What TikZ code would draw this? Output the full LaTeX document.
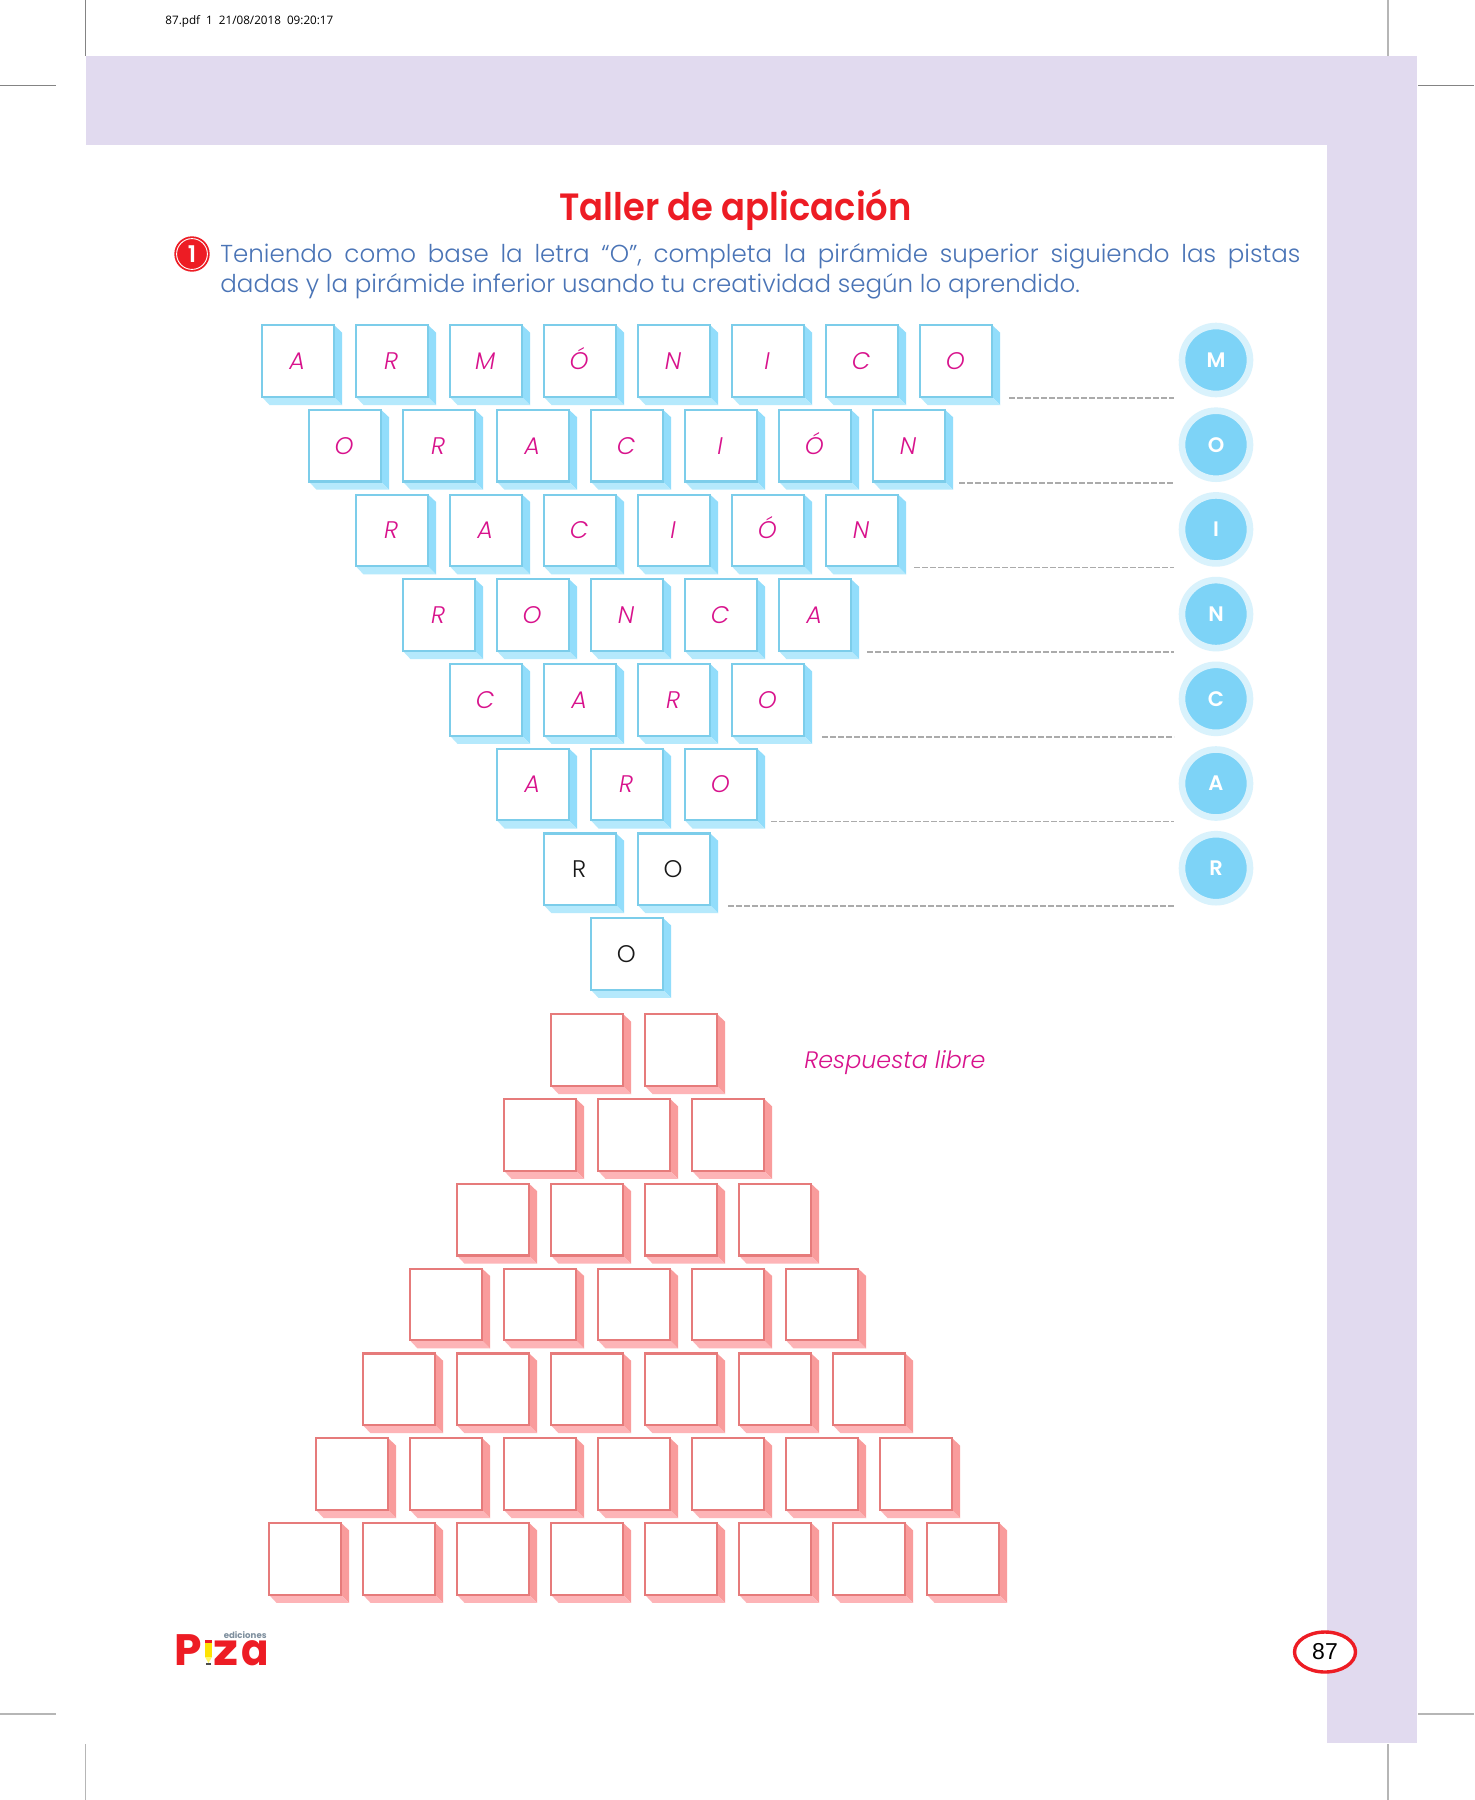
\documentclass[tikz,border=0pt]{standalone}
\usepackage{fontspec}
\usetikzlibrary{shapes.geometric}
\setmainfont{Poppins Light}
\newfontfamily\titlefont{Poppins SemiBold}
\newfontfamily\logofont{Poppins}
\newfontfamily\markfont{Open Sans}
\newfontfamily\numfont{Liberation Sans}
\definecolor{lilac}{HTML}{E1DAEF}
\definecolor{croplight}{HTML}{B6B6B6}
\definecolor{cropdark}{HTML}{848484}
\definecolor{dashgray}{HTML}{ABABAB}
\definecolor{tealedge}{HTML}{7CCDEA}
\definecolor{tealside}{HTML}{92DDFB}
\definecolor{tealfoot}{HTML}{B5E9FC}
\definecolor{rededge}{HTML}{E67B7B}
\definecolor{redside}{HTML}{F99C9C}
\definecolor{redfoot}{HTML}{FDB4B7}
\definecolor{ink}{HTML}{D8128C}
\definecolor{bodyblue}{HTML}{4A74B6}
\definecolor{titlered}{HTML}{ED1C24}
\definecolor{ringlight}{HTML}{D9F2FC}
\definecolor{ringfill}{HTML}{7DD3F7}
\definecolor{logogray}{HTML}{7D8E9D}
\tikzset{
  x=0.5pt,y=-0.5pt,
  cropthin/.style={cropdark,line width=0.5pt},
  cropwide/.style={croplight,line width=0.8pt},
  guide/.style={dashgray,line width=0.85pt,dash pattern=on 2.8pt off 1.2pt},
  cellbase/.style={draw,fill=white,minimum size=35.8pt,inner sep=0pt,line width=1.1pt,text height=8.4pt,text depth=0pt,font=\fontsize{12}{12}\selectfont},
  cellteal/.style={cellbase,draw=tealedge},
  cellred/.style={cellbase,draw=rededge},
  lettermag/.style={text=ink,font=\fontsize{12}{12}\selectfont\itshape},
  letterblk/.style={text=black!90},
  disc/.style={circle,fill=ringfill,draw=ringlight,line width=3.3pt,minimum size=34pt,inner sep=0pt,text=white,font=\fontsize{10.5}{10.5}\selectfont\titlefont},
}
\begin{document}
\begin{tikzpicture}
\useasboundingbox (0,0) rectangle (1474,1800);
\fill[white] (0,0) rectangle (1474,1800);
% lilac frame
\fill[lilac] (86,56) rectangle (1417,145);
\fill[lilac] (1327,56) rectangle (1417,1743);
% crop marks
\coordinate (c1a) at (85.5,0); \coordinate (c1b) at (85.5,56);
\coordinate (c2a) at (0,85); \coordinate (c2b) at (56,85);
\coordinate (c3a) at (1388,0); \coordinate (c3b) at (1388,56);
\coordinate (c4a) at (1418,85); \coordinate (c4b) at (1474,85);
\coordinate (c5a) at (0,1714); \coordinate (c5b) at (56,1714);
\coordinate (c6a) at (85.5,1744); \coordinate (c6b) at (85.5,1800);
\coordinate (c7a) at (1418,1714); \coordinate (c7b) at (1474,1714);
\coordinate (c8a) at (1388,1744); \coordinate (c8b) at (1388,1800);
\foreach \k in {1,2,4} \draw[cropthin] (c\k a) -- (c\k b);
\foreach \k in {3,5,6,7,8} \draw[cropwide] (c\k a) -- (c\k b);
% header
\node[anchor=base west,inner sep=0pt,font=\fontsize{5.84}{6}\selectfont\markfont] (stamp) at (165,24) {87.pdf\ \ 1\ \ 21/08/2018\ \ 09:20:17};
% title
\node[anchor=base,inner sep=0pt,text=titlered,font=\fontsize{19}{20}\selectfont\titlefont] (title) at (735.5,220) {\scalebox{0.93}[1]{Taller de aplicación}};
% badge
\node[circle,fill=titlered,minimum size=17.7pt,inner sep=0pt] (badge) at (192,254) {};
\node[circle,draw=white,line width=0.45pt,minimum size=15.4pt,inner sep=0pt,text=white,font=\fontsize{11.5}{12}\selectfont\titlefont] (badgenum) at (192,254) {1};
% instruction
\node[anchor=base west,inner sep=0pt,text=bodyblue,font=\fontsize{12.27}{14}\selectfont] (line1) at (220,262) {\makebox[540pt][s]{Teniendo como base la letra “O”, completa la pirámide superior siguiendo las pistas}};
\node[anchor=base west,inner sep=0pt,text=bodyblue,font=\fontsize{12.27}{14}\selectfont] (line2) at (220,292) {dadas y la pirámide inferior usando tu creatividad según lo aprendido.};
% upper pyramid
\foreach \r/\sty/\w in {0/lettermag/{A,R,M,Ó,N,I,C,O},1/lettermag/{O,R,A,C,I,Ó,N},2/lettermag/{R,A,C,I,Ó,N},3/lettermag/{R,O,N,C,A},4/lettermag/{C,A,R,O},5/lettermag/{A,R,O},6/letterblk/{R,O},7/letterblk/{O}}{
  \foreach \c [count=\i from 0] in \w {
    \pgfmathsetmacro\cx{298+47*\r+94*\i}
    \pgfmathsetmacro\cy{361+84.7*\r}
    \begin{scope}[shift={(\cx,\cy)}]
      \fill[tealside] (36,-36)--(44,-28.5)--(44,44)--(36,36)--cycle;
      \fill[tealfoot] (-36,36)--(-28.5,44)--(44,44)--(36,36)--cycle;
      \node[cellteal,\sty] (up-\r-\i) at (0,0) {\hspace*{-0.8pt}\c};
    \end{scope}
  }
}
% lower pyramid
\foreach \r in {0,...,6}{
  \pgfmathtruncatemacro\last{\r+1}
  \foreach \i in {0,...,\last}{
    \pgfmathsetmacro\cx{587-47*\r+94*\i}
    \pgfmathsetmacro\cy{1050+84.8*\r}
    \begin{scope}[shift={(\cx,\cy)}]
      \fill[redside] (36,-36)--(44,-28.5)--(44,44)--(36,36)--cycle;
      \fill[redfoot] (-36,36)--(-28.5,44)--(44,44)--(36,36)--cycle;
      \node[cellred] (low-\r-\i) at (0,0) {};
    \end{scope}
  }
}
\node[anchor=base west,inner sep=0pt,text=ink,font=\fontsize{11.9}{14}\selectfont\itshape] (libre) at (804,1068) {Respuesta libre};
% discs and guides
\foreach \r/\ch/\sx in {0/M/1009,1/O/959,2/I/914,3/N/867,4/C/822,5/A/771,6/R/728}{
  \pgfmathsetmacro\dy{360+84.7*\r}
  \pgfmathsetmacro\ly{398+84.7*\r}
  \node[disc] (disc-\r) at (1216,\dy) {\ch};
  \coordinate (gs-\r) at (\sx,\ly);
  \coordinate (ge-\r) at (1174,\ly);
  \draw[guide] (gs-\r) -- (ge-\r);
}
% logo
\node[anchor=base west,inner sep=0pt,text=titlered,font=\fontsize{22}{22}\selectfont\logofont\bfseries] (logop) at (174,1665) {P};
\node[anchor=base west,inner sep=0pt,text=titlered,font=\fontsize{22}{22}\selectfont\logofont\bfseries] (logoz) at (213,1665) {\scalebox{1.15}[1]{z}};
\node[anchor=base west,inner sep=0pt,text=titlered,font=\fontsize{22}{22}\selectfont\logofont\bfseries] (logoa) at (241,1665) {\scalebox{0.92}[1]{a}};
\node[anchor=base east,inner sep=0pt,text=logogray,font=\fontsize{4.3}{5}\selectfont\logofont\bfseries] (logoe) at (267,1638.5) {ediciones};
\fill[yellow!85!orange] (205,1643) rectangle (212,1657);
\fill[titlered] (205,1640) rectangle (212,1643);
\fill[yellow!60!white] (205,1657)--(212,1657)--(208.5,1663)--cycle;
\fill[black!70] (206,1663) rectangle (211,1665);
% page number
\node[ellipse,draw=titlered,fill=white,line width=1.7pt,minimum width=30.5pt,minimum height=20pt,inner sep=0pt,font=\fontsize{11.5}{12}\selectfont\numfont] (pageno) at (1325,1652) {87};
\end{tikzpicture}
\end{document}
